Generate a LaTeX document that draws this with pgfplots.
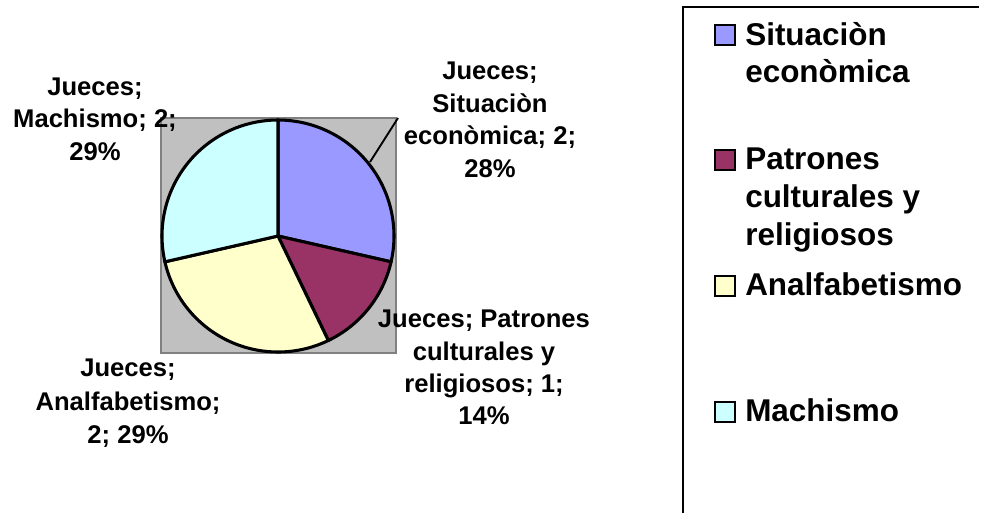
\documentclass[border=0pt]{standalone}
\usepackage{pgfplots}
\pgfplotsset{compat=1.18}
\usepackage{pgfplotstable}
\usepackage{fontspec}
\setmainfont{Liberation Sans}
\definecolor{cSit}{HTML}{9999FF}
\definecolor{cPat}{HTML}{993366}
\definecolor{cAna}{HTML}{FFFFCC}
\definecolor{cMac}{HTML}{CCFFFF}
\definecolor{cPlot}{HTML}{C0C0C0}
\definecolor{cPlotB}{HTML}{808080}

\pgfplotstableread{
cat value
Sit 2
Pat 1
Ana 2
Mac 2
}\piedata

\newcommand\lab{\fontsize{19.2pt}{24pt}\selectfont\bfseries}
\newcommand\leg{\fontsize{23.6pt}{28pt}\selectfont\bfseries}

\begin{document}
\begin{tikzpicture}
\pgfplotstablegetelem{0}{value}\of\piedata \edef\vA{\pgfplotsretval}
\pgfplotstablegetelem{1}{value}\of\piedata \edef\vB{\pgfplotsretval}
\pgfplotstablegetelem{2}{value}\of\piedata \edef\vC{\pgfplotsretval}
\pgfplotstablegetelem{3}{value}\of\piedata \edef\vD{\pgfplotsretval}
\pgfmathsetmacro\tot{\vA+\vB+\vC+\vD}
\pgfmathsetmacro\aA{90}
\pgfmathsetmacro\aB{90-360*\vA/\tot}
\pgfmathsetmacro\aC{\aB-360*\vB/\tot}
\pgfmathsetmacro\aD{\aC-360*\vC/\tot}
\pgfmathsetmacro\aE{\aD-360*\vD/\tot}
\begin{axis}[scale only axis, width=736.5pt, height=384pt,
  xmin=0, xmax=982, ymin=0, ymax=512, y dir=reverse,
  axis line style={draw=none}, ticks=none, clip=true]
% plot area
\addplot[fill=cPlot, draw=cPlotB, line width=1.8pt] coordinates {(161,118) (396,118) (396,353) (161,353)} -- cycle;
% pie slices
\addplot[fill=cSit, draw=black, line width=2.3pt, line join=round, domain=\aB:\aA, samples=60] ({278+116*cos(x)}, {236-116*sin(x)}) -- (axis cs:278,236) -- cycle;
\addplot[fill=cPat, draw=black, line width=2.3pt, line join=round, domain=\aC:\aB, samples=40] ({278+116*cos(x)}, {236-116*sin(x)}) -- (axis cs:278,236) -- cycle;
\addplot[fill=cAna, draw=black, line width=2.3pt, line join=round, domain=\aD:\aC, samples=60] ({278+116*cos(x)}, {236-116*sin(x)}) -- (axis cs:278,236) -- cycle;
\addplot[fill=cMac, draw=black, line width=2.3pt, line join=round, domain=\aE:\aD, samples=60] ({278+116*cos(x)}, {236-116*sin(x)}) -- (axis cs:278,236) -- cycle;
% leader line
\addplot[black, line width=1.4pt] coordinates {(370,162) (398,118)};
% data labels
\node[anchor=base, font=\lab] at (axis cs:95,95) {Jueces;};
\node[anchor=base, font=\lab] at (axis cs:95,127) {Machismo; 2;};
\node[anchor=base, font=\lab] at (axis cs:95,160) {29\%};
\node[anchor=base, font=\lab] at (axis cs:490,79) {Jueces;};
\node[anchor=base, font=\lab] at (axis cs:490,112) {Situaciòn};
\node[anchor=base, font=\lab] at (axis cs:490,144) {econòmica; 2;};
\node[anchor=base, font=\lab] at (axis cs:490,177) {28\%};
\node[anchor=base, font=\lab] at (axis cs:484,327) {Jueces; Patrones};
\node[anchor=base, font=\lab] at (axis cs:484,360) {culturales y};
\node[anchor=base, font=\lab] at (axis cs:484,392) {religiosos; 1;};
\node[anchor=base, font=\lab] at (axis cs:484,424) {14\%};
\node[anchor=base, font=\lab] at (axis cs:128,376) {Jueces;};
\node[anchor=base, font=\lab] at (axis cs:128,410) {Analfabetismo;};
\node[anchor=base, font=\lab] at (axis cs:128,443) {2; 29\%};
% legend box: its right and bottom sides lie outside the picture
\addplot[draw=black, line width=1.6pt] coordinates {(979,7) (683,7) (683,520)};
\addplot[fill=cSit, draw=black, line width=1.4pt] coordinates {(715,25) (735,25) (735,45) (715,45)} -- cycle;
\addplot[fill=cPat, draw=black, line width=1.4pt] coordinates {(715,150) (735,150) (735,170) (715,170)} -- cycle;
\addplot[fill=cAna, draw=black, line width=1.4pt] coordinates {(715,276) (735,276) (735,296) (715,296)} -- cycle;
\addplot[fill=cMac, draw=black, line width=1.4pt] coordinates {(715,402) (735,402) (735,422) (715,422)} -- cycle;
\node[anchor=base west, font=\leg, inner xsep=0pt] at (axis cs:745,45) {Situaciòn};
\node[anchor=base west, font=\leg, inner xsep=0pt] at (axis cs:745,82) {econòmica};
\node[anchor=base west, font=\leg, inner xsep=0pt] at (axis cs:745,169) {Patrones};
\node[anchor=base west, font=\leg, inner xsep=0pt] at (axis cs:745,207) {culturales y};
\node[anchor=base west, font=\leg, inner xsep=0pt] at (axis cs:745,245) {religiosos};
\node[anchor=base west, font=\leg, inner xsep=0pt] at (axis cs:745,295) {Analfabetismo};
\node[anchor=base west, font=\leg, inner xsep=0pt] at (axis cs:745,421) {Machismo};
\end{axis}
\pgfresetboundingbox
\path[use as bounding box] (current axis.south west) rectangle (current axis.north east);
\end{tikzpicture}
\end{document}
